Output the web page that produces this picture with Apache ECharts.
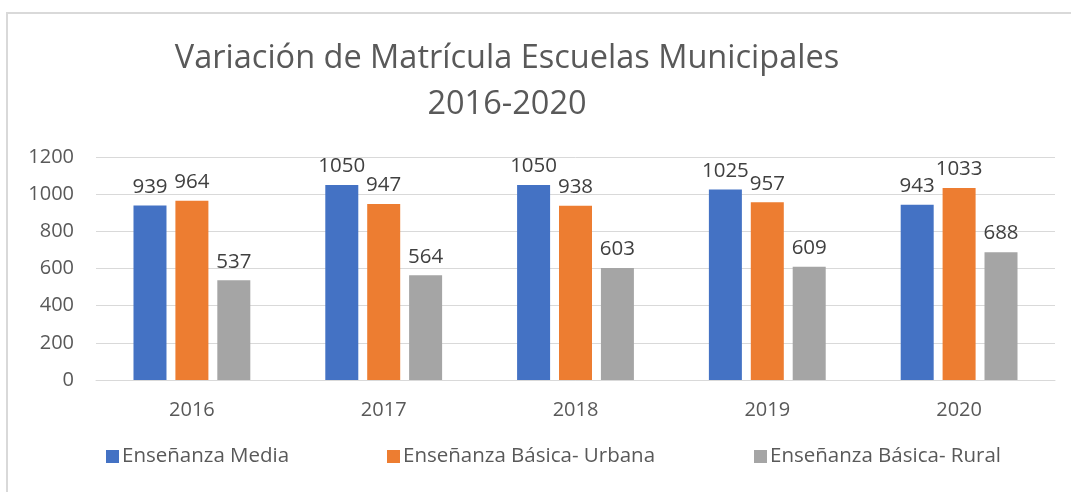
<!DOCTYPE html>
<html>
<head>
<meta charset="utf-8">
<script src="https://cdn.jsdelivr.net/npm/echarts@6/dist/echarts.min.js"></script>
<style>
html,body{margin:0;padding:0;background:#fff;}
#chart{width:1071px;height:492px;}
</style>
</head>
<body>
<div id="chart"></div>
<script>
var categories = ['2016', '2017', '2018', '2019', '2020'];
var seriesNames = ['Enseñanza Media', 'Enseñanza Básica- Urbana', 'Enseñanza Básica- Rural'];
var media = [939, 1050, 1050, 1025, 943];
var urbana = [964, 947, 938, 957, 1033];
var rural = [537, 564, 603, 609, 688];
var yTicks = [0, 200, 400, 600, 800, 1000, 1200];

var FONT = 'Open Sans';
var chart = echarts.init(document.getElementById('chart'));
var colors = ['#4472C4', '#ED7D31', '#A5A5A5'];
var values = [media, urbana, rural];

function legendFor(i, left) {
  return {
    data: [seriesNames[i]], left: left, top: 441,
    itemWidth: 13, itemHeight: 13, itemGap: 0,
    icon: 'rect',
    textStyle: { fontFamily: FONT, fontSize: 20.5, color: '#595959', padding: [0, 0, 0, -2] }
  };
}

chart.setOption({
  animation: false,
  backgroundColor: '#fff',
  textStyle: { fontFamily: FONT },
  graphic: [{
    type: 'rect', shape: { x: 7, y: 13, width: 1090, height: 520 },
    style: { fill: 'none', stroke: '#d9d9d9', lineWidth: 2 }, silent: true
  }],
  title: {
    text: 'Variación de Matrícula Escuelas Municipales\n2016-2020',
    left: 502, top: 31, textAlign: 'center',
    textStyle: { fontFamily: FONT, fontSize: 32.5, fontWeight: 'normal', color: '#595959', lineHeight: 46 }
  },
  legend: [legendFor(0, 101), legendFor(1, 382), legendFor(2, 749)],
  grid: { left: 96, right: 16, top: 157, bottom: 112 },
  xAxis: {
    type: 'category', data: categories,
    axisLine: { lineStyle: { color: '#d9d9d9', width: 1 } },
    axisTick: { show: false },
    axisLabel: { fontFamily: FONT, fontSize: 20, color: '#595959', margin: 20 }
  },
  yAxis: {
    type: 'value', min: yTicks[0], max: yTicks[yTicks.length - 1], interval: 200,
    axisLine: { show: false }, axisTick: { show: false },
    splitLine: { lineStyle: { color: '#d9d9d9', width: 1 } },
    axisLabel: { fontFamily: FONT, fontSize: 20, color: '#595959', margin: 22,
      formatter: function (v) { return String(v); } }
  },
  series: values.map(function (v, i) {
    return {
      name: seriesNames[i], type: 'bar', data: v,
      barWidth: 33, barGap: '27%',
      itemStyle: { color: colors[i] },
      label: { show: true, position: 'top', distance: 8, fontFamily: FONT, fontSize: 20.5, color: '#404040' }
    };
  })
});
</script>
</body>
</html>
